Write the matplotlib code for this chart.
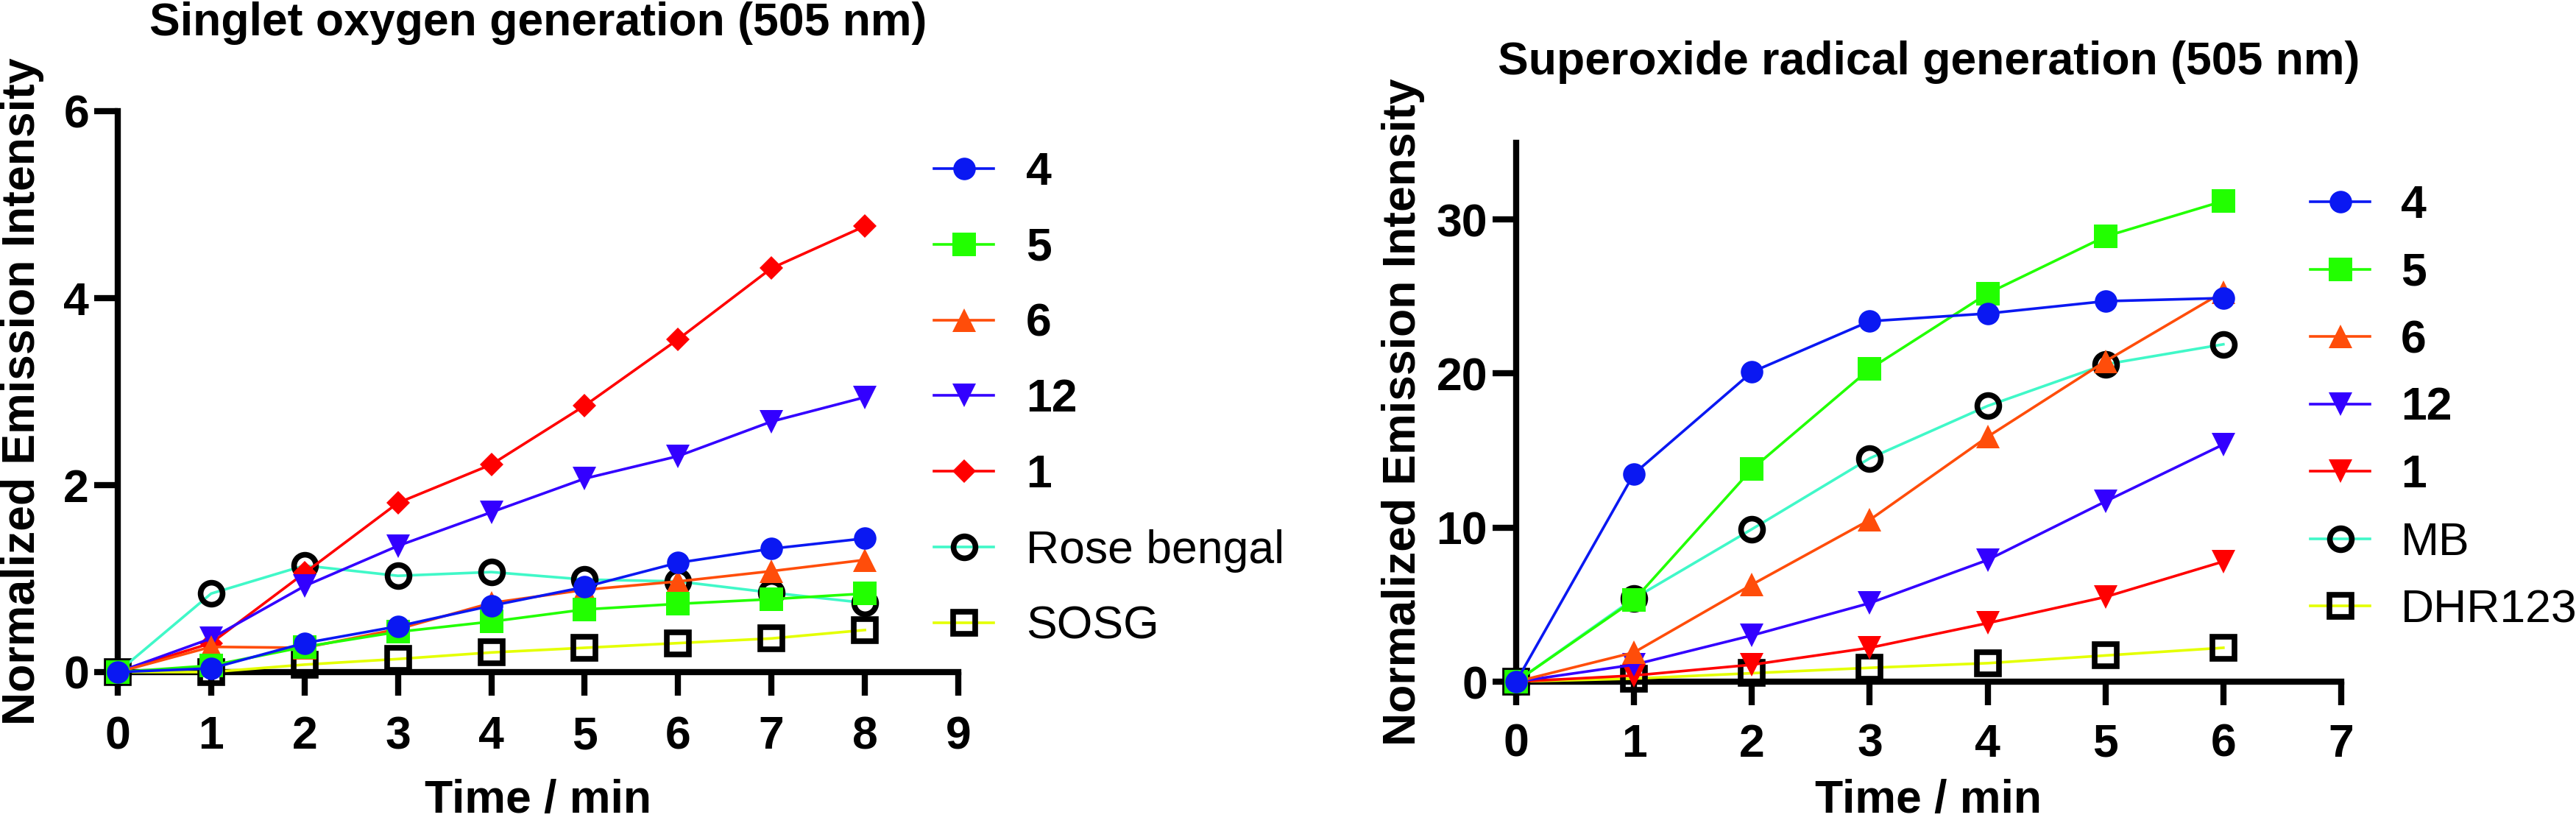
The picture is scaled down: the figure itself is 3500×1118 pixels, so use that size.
import matplotlib
matplotlib.use("Agg")
import matplotlib.pyplot as plt

plt.rcParams['font.family'] = ['Liberation Sans', 'DejaVu Sans']
plt.rcParams['font.weight'] = 'bold'

# ---------------- data ----------------
time_left = [0, 1, 2, 3, 4, 5, 6, 7, 8]
c4_left = [0, 0.04, 0.31, 0.49, 0.71, 0.91, 1.17, 1.32, 1.43]
c5_left = [0, 0.07, 0.27, 0.43, 0.54, 0.67, 0.73, 0.78, 0.84]
c6_left = [0, 0.27, 0.26, 0.46, 0.74, 0.88, 0.97, 1.08, 1.20]
c12_left = [0, 0.36, 0.92, 1.35, 1.71, 2.07, 2.31, 2.68, 2.94]
c1_left = [0, 0.31, 1.06, 1.81, 2.22, 2.85, 3.56, 4.32, 4.77]
rose_bengal = [0, 0.84, 1.14, 1.03, 1.07, 0.99, 0.97, 0.85, 0.74]
sosg = [0, 0.0, 0.08, 0.14, 0.21, 0.26, 0.31, 0.36, 0.45]

time_right = [0, 1, 2, 3, 4, 5, 6]
c4_right = [0, 13.5, 20.1, 23.4, 23.9, 24.7, 24.9]
c5_right = [0, 5.3, 13.8, 20.3, 25.2, 28.9, 31.2]
c6_right = [0, 1.9, 6.3, 10.5, 15.9, 20.8, 25.3]
c12_right = [0, 1.1, 3.0, 5.1, 7.9, 11.7, 15.4]
c1_right = [0, 0.4, 1.1, 2.2, 3.8, 5.5, 7.8]
mb = [0, 5.4, 9.9, 14.5, 17.9, 20.6, 21.9]
dhr123 = [0, 0.2, 0.55, 0.9, 1.2, 1.7, 2.2]

left_labels = ['4', '5', '6', '12', '1', 'Rose bengal', 'SOSG']
right_labels = ['4', '5', '6', '12', '1', 'MB', 'DHR123']
left_xticks = [0, 1, 2, 3, 4, 5, 6, 7, 8, 9]
left_yticks = [0, 2, 4, 6]
right_xticks = [0, 1, 2, 3, 4, 5, 6, 7]
right_yticks = [0, 10, 20, 30]

# ---------------- styles ----------------
BLUE = '#0A18F2'
GREEN = '#22FF00'
ORANGE = '#FF4D0A'
PURPLE = '#3300FF'
RED = '#FF0000'
TURQ = '#40F8C8'
YELLOW = '#E4FF00'

LW = 2.6
FS = 45

left_styles = [
    dict(color=BLUE, marker='o', ms=22),
    dict(color=GREEN, marker='s', ms=23),
    dict(color=ORANGE, marker='^', ms=23),
    dict(color=PURPLE, marker='v', ms=23),
    dict(color=RED, marker='D', ms=16.5),
    dict(color=TURQ, marker='o', ms=21.5, open=True),
    dict(color=YELLOW, marker='s', ms=21.5, open=True),
]
right_styles = [
    dict(color=BLUE, marker='o', ms=22),
    dict(color=GREEN, marker='s', ms=23),
    dict(color=ORANGE, marker='^', ms=23),
    dict(color=PURPLE, marker='v', ms=23),
    dict(color=RED, marker='v', ms=23),
    dict(color=TURQ, marker='o', ms=21.5, open=True),
    dict(color=YELLOW, marker='s', ms=21.5, open=True),
]

fig = plt.figure(figsize=(35, 11.18), dpi=100)
W, H = 3500.0, 1118.0

ax1 = fig.add_axes([160 / W, 1 - 913 / H, 1142 / W, 762 / H])
ax2 = fig.add_axes([2060 / W, 1 - 926 / H, 1121 / W, 732.4 / H])


def draw_series(ax, x, series, styles, labels):
    handles = []
    n = len(series)
    for i, (y, st, lab) in enumerate(zip(series, styles, labels)):
        z = 10 + (n - i) * 2
        if st.get('open'):
            h, = ax.plot(x, y, color=st['color'], lw=LW, marker=st['marker'],
                         ms=st['ms'], mfc='none', mec='black', mew=5.5,
                         label=lab, clip_on=False, zorder=z)
        else:
            h, = ax.plot(x, y, color=st['color'], lw=LW, marker=st['marker'],
                         ms=st['ms'], mfc=st['color'], mec=st['color'], mew=0,
                         label=lab, clip_on=False, zorder=z)
        handles.append(h)
    return handles


def style_axes(ax, xticks, yticks, xmax, ymax, xpad):
    ax.set_xlim(0, xmax)
    ax.set_ylim(0, ymax)
    ax.set_xticks(xticks)
    ax.set_yticks(yticks)
    for s in ['top', 'right']:
        ax.spines[s].set_visible(False)
    for s in ['left', 'bottom']:
        ax.spines[s].set_linewidth(6)
        ax.spines[s].set_capstyle('projecting')
    ax.tick_params(axis='both', direction='out', length=23, width=6,
                   labelsize=FS)
    ax.tick_params(axis='x', pad=xpad)
    ax.tick_params(axis='y', pad=5)
    for lbl in ax.get_xticklabels() + ax.get_yticklabels():
        lbl.set_fontweight('bold')


# ---------------- left panel ----------------
h1 = draw_series(ax1, time_left,
                 [c4_left, c5_left, c6_left, c12_left, c1_left, rose_bengal, sosg],
                 left_styles, left_labels)
style_axes(ax1, left_xticks, left_yticks, 9, 6, 19)
ax1.set_title('Singlet oxygen generation (505 nm)', fontsize=FS,
              fontweight='bold', pad=74)
ax1.set_xlabel('Time / min', fontsize=FS, fontweight='bold')
ax1.set_ylabel('Normalized Emission Intensity', fontsize=FS, fontweight='bold')
ax1.xaxis.set_label_coords(0.5, -0.19)
ax1.yaxis.set_label_coords(-0.088, 0.5)

leg1 = ax1.legend(handles=h1, labels=left_labels, loc='upper left',
                  bbox_to_anchor=(1269 / W, 1 - 205 / H),
                  bbox_transform=fig.transFigure, frameon=False, fontsize=FS,
                  borderpad=0, borderaxespad=0, handlelength=1.3,
                  handletextpad=0.7, labelspacing=0.7)

# ---------------- right panel ----------------
h2 = draw_series(ax2, time_right,
                 [c4_right, c5_right, c6_right, c12_right, c1_right, mb, dhr123],
                 right_styles, right_labels)
style_axes(ax2, right_xticks, right_yticks, 7, 35, 17)
ax2.set_title('Superoxide radical generation (505 nm)', fontsize=FS,
              fontweight='bold', pad=67)
ax2.set_xlabel('Time / min', fontsize=FS, fontweight='bold')
ax2.set_ylabel('Normalized Emission Intensity', fontsize=FS, fontweight='bold')
ax2.xaxis.set_label_coords(0.5, -0.18)
ax2.yaxis.set_label_coords(-0.1106, 0.5)

leg2 = ax2.legend(handles=h2, labels=right_labels, loc='upper left',
                  bbox_to_anchor=(3139 / W, 1 - 250 / H),
                  bbox_transform=fig.transFigure, frameon=False, fontsize=FS,
                  borderpad=0, borderaxespad=0, handlelength=1.3,
                  handletextpad=0.67, labelspacing=0.52)

for leg in (leg1, leg2):
    for t in leg.get_texts():
        if t.get_text() in ('Rose bengal', 'SOSG', 'MB', 'DHR123'):
            t.set_fontweight('normal')
        else:
            t.set_fontweight('bold')

fig.savefig('out.png', dpi=100)
